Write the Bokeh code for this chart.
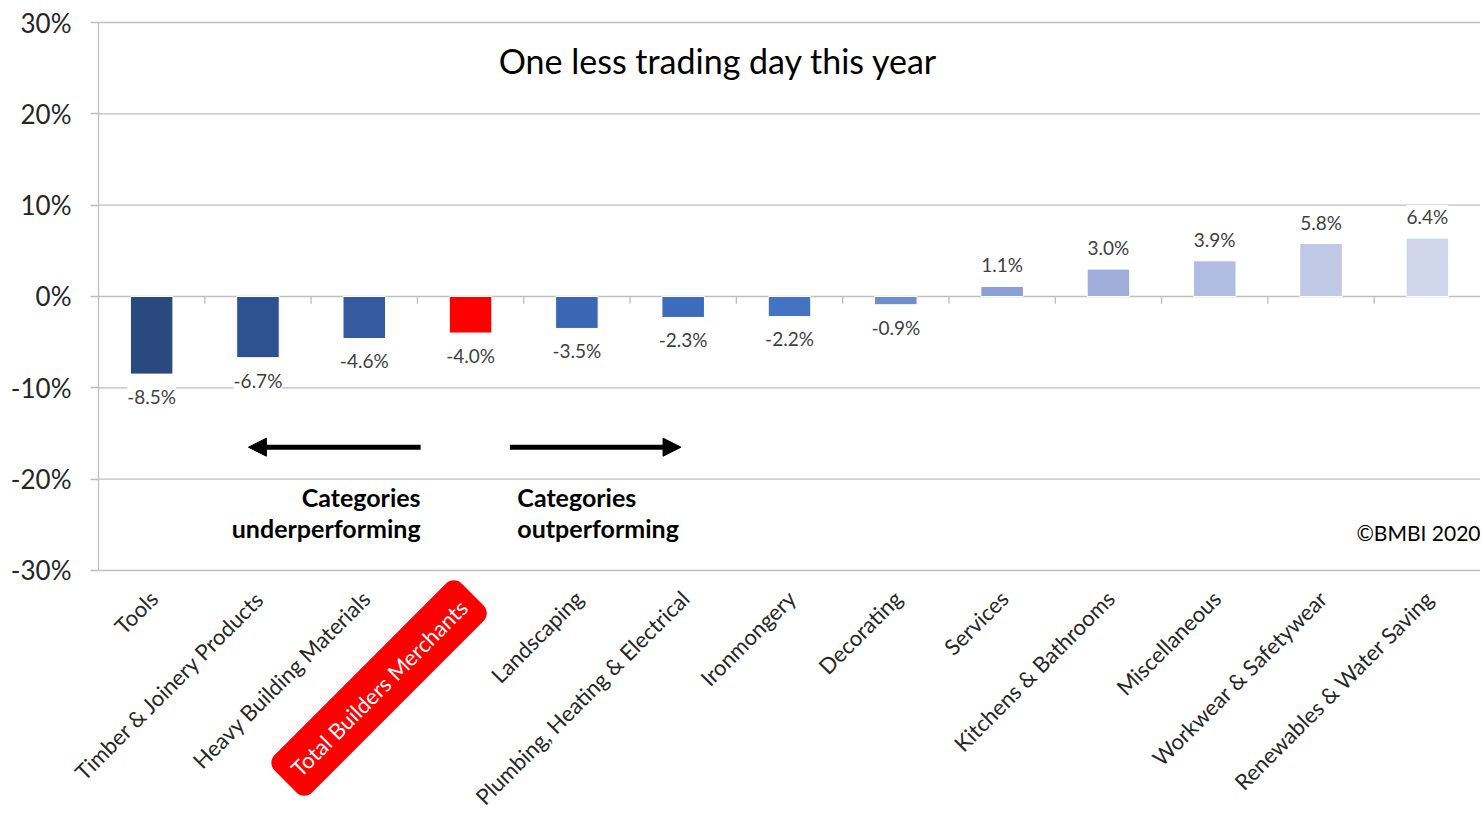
import math
from bokeh.plotting import figure
from bokeh.models import (Range1d, FixedTicker, PrintfTickFormatter,
                          ColumnDataSource, LabelSet, Label, Arrow, NormalHead)
from bokeh.core.properties import value
from bokeh.embed import file_html
from bokeh.resources import INLINE

# ---------------- data ----------------
categories = ["Tools", "Timber & Joinery Products", "Heavy Building Materials",
              "Total Builders Merchants", "Landscaping", "Plumbing, Heating & Electrical",
              "Ironmongery", "Decorating", "Services", "Kitchens & Bathrooms",
              "Miscellaneous", "Workwear & Safetywear", "Renewables & Water Saving"]
values = [-8.5, -6.7, -4.6, -4.0, -3.5, -2.3, -2.2, -0.9, 1.1, 3.0, 3.9, 5.8, 6.4]
colors = ["#2A4A7F", "#2E5190", "#355AA0", "#FF0000", "#3A66B4", "#3E6CBC",
          "#4472C4", "#6F8CCF", "#8A9FD5", "#9EAED9", "#B0BCE1", "#BFC9E6", "#D0D7EC"]
y_ticks = [-30, -20, -10, 0, 10, 20, 30]
highlight = "Total Builders Merchants"
title_text = "One less trading day this year"
left_note = ["Categories", "underperforming"]
right_note = ["Categories", "outperforming"]
copyright_text = "\u00a9BMBI 2020"

# ---------------- layout ----------------
FONT = "Lato"
GRID = "#BFBFBF"
W, H = 1480, 816
TOP, LEFT = 22, 98
N = len(categories)
PX_PER_UNIT = 9.133                      # 10 % = 91.3 px as in the reference
y_max = 30 + TOP / PX_PER_UNIT           # frame covers the whole canvas
y_min = 30 - (H - TOP) / PX_PER_UNIT
x_min = -LEFT * N / (W - LEFT)           # y axis pinned at x=0 (start of first category)
LABEL_Y = -30 - 24 / PX_PER_UNIT

xc = [i + 0.5 for i in range(N)]
labels_text = ["%.1f%%" % v for v in values]
label_y = [v - 2.45 if v < 0 else v + 2.35 for v in values]
src = ColumnDataSource(dict(x=xc, cat=categories, val=values, col=colors,
                            txt=labels_text, ly=label_y))

p = figure(x_range=Range1d(x_min, N), y_range=Range1d(y_min, y_max),
           width=W, height=H, output_backend="svg", toolbar_location=None,
           min_border_left=0, min_border_right=0, min_border_top=0,
           min_border_bottom=0)
p.outline_line_color = None
p.background_fill_color = "white"
p.border_fill_color = "white"
p.xaxis.visible = False
p.xgrid.visible = False
p.ygrid.visible = False

# horizontal grid lines (only across the plotting area)
p.segment(x0=[0] * len(y_ticks), y0=y_ticks, x1=[N] * len(y_ticks), y1=y_ticks,
          line_color=GRID, line_width=1.3)
# ticks on the zero line at category boundaries
bx = [float(i) for i in range(1, N)]
p.segment(x0=bx, y0=[0] * len(bx), x1=bx, y1=[-0.8] * len(bx),
          line_color=GRID, line_width=1.3)

# bars
p.vbar(x="x", top="val", bottom=0, width=0.4, fill_color="col",
       line_color="white", line_width=1, source=src)

# y axis, pinned at the start of the first category
p.yaxis.fixed_location = 0
p.yaxis.ticker = FixedTicker(ticks=y_ticks)
p.yaxis.bounds = (-30, 30)
p.yaxis.formatter = PrintfTickFormatter(format="%d%%")
p.yaxis.axis_line_color = GRID
p.yaxis.axis_line_width = 1.3
p.yaxis.major_tick_line_color = GRID
p.yaxis.major_tick_line_width = 1.3
p.yaxis.major_tick_out = 8
p.yaxis.major_tick_in = 0
p.yaxis.minor_tick_line_color = None
p.yaxis.major_label_text_font = FONT
p.yaxis.major_label_text_font_size = "26px"
p.yaxis.major_label_text_color = "#262626"
p.yaxis.major_label_standoff = 19

# category labels (rotated)
nx = [x for x, c in zip(xc, categories) if c != highlight]
nt = [c for c in categories if c != highlight]
p.text(x=nx, y=[LABEL_Y] * len(nx), text=nt, angle=math.pi / 4,
       x_offset=2, text_align="right", text_baseline="middle",
       text_font=value(FONT), text_font_size="22px", text_color="#262626")

hi = categories.index(highlight)
p.add_layout(Label(x=xc[hi], y=LABEL_Y, x_offset=2, text=highlight, angle=math.pi / 4,
                   text_align="right", text_baseline="middle",
                   text_font=FONT, text_font_size="22px", text_color="white",
                   background_fill_color="#FF0000", border_radius=11, padding=13))

# data labels
p.add_layout(LabelSet(x="x", y="ly", text="txt", source=src,
                      text_align="center", text_baseline="middle",
                      text_font=value(FONT), text_font_size="19px", text_color="#404040",
                      background_fill_color="white"))

# title
p.add_layout(Label(x=5.83, y=25.8, text=title_text, text_align="center",
                   text_baseline="middle", text_font=FONT, text_font_size="34px",
                   text_color="black"))

# arrows
p.add_layout(Arrow(x_start=3.03, y_start=-16.5, x_end=1.41, y_end=-16.5,
                   line_width=5, line_color="black",
                   end=NormalHead(size=18, fill_color="black", line_color="black")))
p.add_layout(Arrow(x_start=3.87, y_start=-16.5, x_end=5.48, y_end=-16.5,
                   line_width=5, line_color="black",
                   end=NormalHead(size=18, fill_color="black", line_color="black")))

for i, t in enumerate(left_note):
    p.add_layout(Label(x=3.03, y=-22.0 - 3.4 * i, text=t, text_align="right",
                       text_baseline="middle", text_font=FONT, text_font_size="25px",
                       text_font_style="bold", text_color="black"))
for i, t in enumerate(right_note):
    p.add_layout(Label(x=3.94, y=-22.0 - 3.4 * i, text=t, text_align="left",
                       text_baseline="middle", text_font=FONT, text_font_size="25px",
                       text_font_style="bold", text_color="black"))

p.add_layout(Label(x=N, y=-25.8, text=copyright_text, text_align="right",
                   text_baseline="middle", text_font=FONT, text_font_size="21px",
                   text_color="black"))

open("out.html", "w").write(file_html(p, INLINE))
